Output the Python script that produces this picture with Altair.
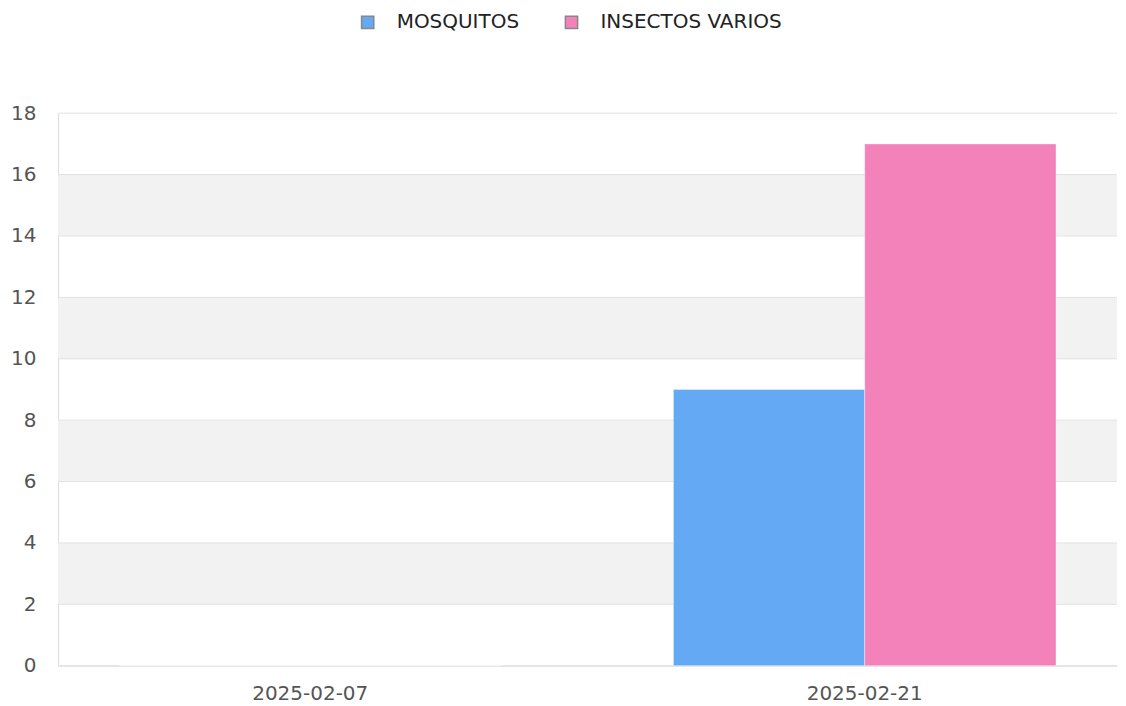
import altair as alt
import pandas as pd

fechas = ["2025-02-07", "2025-02-21"]
series = ["MOSQUITOS", "INSECTOS VARIOS"]
mosquitos = [0, 9]
insectos_varios = [0, 17]
colores = ["#63A9F4", "#F282B9"]
y_ticks = [0, 2, 4, 6, 8, 10, 12, 14, 16, 18]
bandas_desde = [2, 6, 10, 14]
bandas_hasta = [4, 8, 12, 16]

rows = []
for i, f in enumerate(fechas):
    rows.append({"fecha": f, "serie": series[0], "valor": mosquitos[i]})
    rows.append({"fecha": f, "serie": series[1], "valor": insectos_varios[i]})
df = pd.DataFrame(rows)
bands = pd.DataFrame({"y": bandas_desde, "y2": bandas_hasta})
grid = pd.DataFrame({"v": y_ticks})

W, H = 1060, 553
FONT = "DejaVu Sans"
yscale = alt.Scale(domain=[0, 18], nice=False, zero=True)
yaxis = alt.Axis(
    title=None, values=y_ticks, ticks=False, tickSize=0, domain=True,
    domainColor="#dddddd", grid=False, labelFontSize=20, labelFont=FONT,
    labelColor="#555555", labelPadding=22,
)

band_layer = alt.Chart(bands).mark_rect(color="#f2f2f2").encode(
    y=alt.Y("y:Q", scale=yscale, axis=yaxis),
    y2="y2:Q",
    x=alt.value(0),
    x2=alt.value(W),
)

grid_layer = alt.Chart(grid).mark_rule(color="#e2e2e2", strokeWidth=1).encode(
    y=alt.Y("v:Q", scale=yscale, axis=yaxis),
    x=alt.value(0),
    x2=alt.value(W),
)

bars = alt.Chart(df).mark_bar(stroke="white", strokeOpacity=0.4, strokeWidth=1).encode(
    x=alt.X(
        "fecha:N",
        sort=fechas,
        scale=alt.Scale(paddingInner=0.31, paddingOuter=0.11),
        axis=alt.Axis(
            title=None, labelAngle=0, ticks=False, domain=True, domainColor="#dddddd",
            labelFontSize=20, labelFont=FONT, labelColor="#555555", labelPadding=18,
            grid=False,
        ),
    ),
    xOffset=alt.XOffset("serie:N", sort=series),
    y=alt.Y("valor:Q", scale=yscale, axis=yaxis),
    color=alt.Color(
        "serie:N",
        sort=series,
        scale=alt.Scale(domain=series, range=colores),
        legend=alt.Legend(
            title=None, orient="none", direction="horizontal", legendX=300, legendY=-101,
            symbolType="square", symbolSize=150, symbolStrokeColor="#888888",
            symbolStrokeWidth=1.5, labelFontSize=20, labelFont=FONT, labelColor="#222222",
            labelOffset=19, columnPadding=42, padding=0, labelLimit=0,
        ),
    ),
)

chart = alt.layer(band_layer, grid_layer, bars).properties(
    width=W, height=H, padding={"left": 2, "top": 4, "right": 0, "bottom": 0}
).configure_view(stroke=None)

chart.save("out.html", embed_options={"renderer": "svg", "actions": False})
